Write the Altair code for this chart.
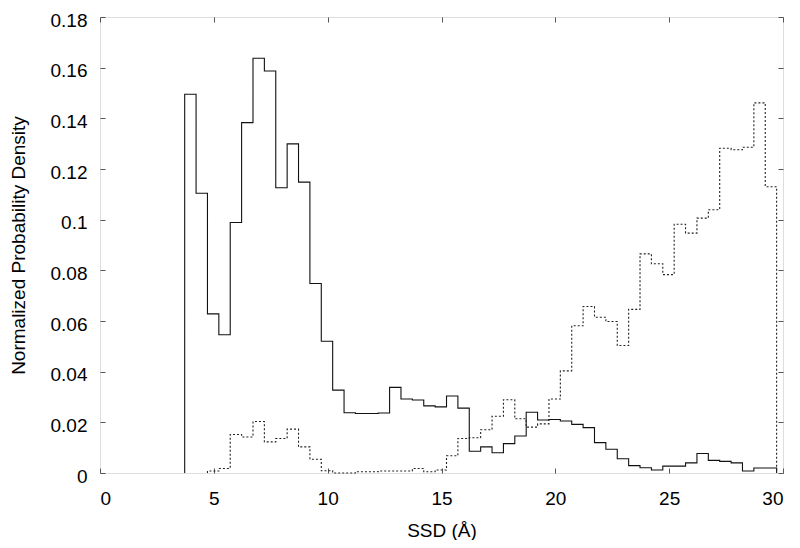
import altair as alt
import pandas as pd

# Histogram bin layout (Å)
BIN_START = 3.72
BIN_WIDTH = 0.5

# Solid histogram (bins 0..51)
solid_values = [0.1495, 0.1104, 0.0628, 0.0546, 0.0989, 0.1383, 0.1637, 0.1587,
                0.1126, 0.1299, 0.1148, 0.0748, 0.0520, 0.0327, 0.0238, 0.0235,
                0.0235, 0.0237, 0.0338, 0.0292, 0.0288, 0.0265, 0.0261, 0.0304,
                0.0256, 0.0086, 0.0103, 0.0080, 0.0116, 0.0146, 0.0240, 0.0209,
                0.0211, 0.0205, 0.0192, 0.0179, 0.0120, 0.0094, 0.0056, 0.0029,
                0.0021, 0.0012, 0.0027, 0.0027, 0.0040, 0.0077, 0.0050, 0.0046,
                0.0040, 0.0008, 0.0020, 0.0020]
solid_first_bin = 0

# Dotted histogram (bins 2..51)
dotted_values = [0.0008, 0.0018, 0.0152, 0.0142, 0.0203, 0.0123, 0.0136, 0.0173,
                 0.0103, 0.0054, 0.0009, 0.0000, 0.0000, 0.0005, 0.0005, 0.0008,
                 0.0008, 0.0008, 0.0018, 0.0005, 0.0012, 0.0068, 0.0136, 0.0139,
                 0.0171, 0.0224, 0.0289, 0.0214, 0.0181, 0.0194, 0.0292, 0.0403,
                 0.0581, 0.0657, 0.0615, 0.0598, 0.0503, 0.0646, 0.0865, 0.0826,
                 0.0783, 0.0982, 0.0947, 0.1006, 0.1039, 0.1282, 0.1276, 0.1286,
                 0.1461, 0.1130]
dotted_first_bin = 2

x_ticks = [0, 5, 10, 15, 20, 25, 30]
y_ticks = [0, 0.02, 0.04, 0.06, 0.08, 0.10, 0.12, 0.14, 0.16, 0.18]

W, H = 683, 456
FONT = "Liberation Sans"
FS = 19
GRAY = "#555555"


def stairs(values, first_bin, name):
    rows = []
    i = 0
    e0 = BIN_START + first_bin * BIN_WIDTH
    rows.append({"x": e0, "y": 0.0, "i": i, "s": name}); i += 1
    for k, v in enumerate(values):
        left = BIN_START + (first_bin + k) * BIN_WIDTH
        right = left + BIN_WIDTH
        rows.append({"x": left, "y": v, "i": i, "s": name}); i += 1
        rows.append({"x": right, "y": v, "i": i, "s": name}); i += 1
    rows.append({"x": rows[-1]["x"], "y": 0.0, "i": i, "s": name})
    return pd.DataFrame(rows)


solid_df = stairs(solid_values, solid_first_bin, "solid")
dotted_df = stairs(dotted_values, dotted_first_bin, "dotted")

xscale = alt.Scale(domain=[0, 30], nice=False, zero=False)
yscale = alt.Scale(domain=[0, 0.18], nice=False)

tick_axis_common = dict(labels=False, domain=False, grid=False, ticks=True,
                        tickSize=5, tickColor=GRAY, tickWidth=1, title=None)

# Layer 1: solid line, carries labelled axes (bottom / left)
solid = alt.Chart(solid_df).mark_line(color="#111111", strokeWidth=1.1).encode(
    x=alt.X("x:Q", scale=xscale,
            axis=alt.Axis(orient="bottom", values=x_ticks, ticks=False, domain=False,
                          grid=False, labelFont=FONT, labelFontSize=FS,
                          labelColor="#000000", labelPadding=16,
                          title="SSD (Å)", titleFont=FONT, titleFontSize=FS,
                          titleFontWeight="normal", titleColor="#000000",
                          titleX=W / 2, titleY=57, titleBaseline="middle")),
    y=alt.Y("y:Q", scale=yscale,
            axis=alt.Axis(orient="left", values=y_ticks, ticks=False, domain=False,
                          grid=False, format="~g", labelFont=FONT, labelFontSize=FS,
                          labelColor="#000000", labelPadding=13, labelOffset=3,
                          title="Normalized Probability Density", titleFont=FONT,
                          titleFontSize=FS, titleFontWeight="normal",
                          titleColor="#000000", titleAngle=-90, titleX=-82,
                          titleY=H / 2, titleAlign="center", titleBaseline="middle")),
    order="i:Q",
)

# Layer 2: dotted line, carries inward ticks on bottom edge and left edge
dotted = alt.Chart(dotted_df).mark_line(color="#222222", strokeWidth=1.1,
                                        strokeDash=[2, 2]).encode(
    x=alt.X("x:Q", scale=xscale,
            axis=alt.Axis(orient="top", offset=-H, values=x_ticks, **tick_axis_common)),
    y=alt.Y("y:Q", scale=yscale,
            axis=alt.Axis(orient="right", offset=-W, values=y_ticks, **tick_axis_common)),
    order="i:Q",
)

# Layer 3: invisible copy, carries inward ticks on top edge and right edge
ghost = alt.Chart(solid_df).mark_line(opacity=0).encode(
    x=alt.X("x:Q", scale=xscale,
            axis=alt.Axis(orient="bottom", offset=-H, values=x_ticks, **tick_axis_common)),
    y=alt.Y("y:Q", scale=yscale,
            axis=alt.Axis(orient="left", offset=-W, values=y_ticks, **tick_axis_common)),
    order="i:Q",
)

chart = alt.layer(solid, dotted, ghost).resolve_axis(
    x="independent", y="independent"
).properties(
    width=W, height=H,
    autosize=alt.AutoSizeParams(type="none"),
    padding={"left": 92, "top": 9, "right": 9, "bottom": 67},
).configure_view(
    stroke=GRAY, strokeWidth=1
).configure(background="white")

chart.save("out.html", embed_options={"renderer": "svg", "actions": False})
